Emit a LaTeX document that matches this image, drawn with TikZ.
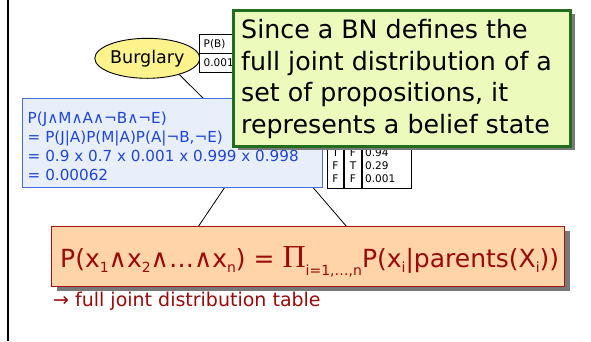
\documentclass[tikz,border=0pt]{standalone}
\usepackage{fontspec}
\setmainfont{DejaVu Sans}
\newfontfamily\piFont{Liberation Serif}
\usetikzlibrary{shapes.geometric,shadows}
\definecolor{ellyellow}{RGB}{252,243,140}
\definecolor{notefill}{RGB}{236,250,188}
\definecolor{noteedge}{RGB}{34,110,30}
\definecolor{orfill}{RGB}{255,212,168}
\definecolor{oredge}{RGB}{165,20,20}
\definecolor{ortext}{RGB}{155,10,10}
\definecolor{bltext}{RGB}{30,70,220}
\definecolor{bledge}{RGB}{70,110,225}
\definecolor{blfill}{RGB}{233,238,251}
\definecolor{shadowgray}{RGB}{120,120,120}
\newcommand{\mysub}[1]{\raisebox{-5pt}{\fontsize{14}{14}\selectfont #1}}
\begin{document}
\begin{tikzpicture}[x=1pt,y=-1pt,
  edge/.style={draw=black,line width=0.8pt},
  cellbox/.style={draw=black,line width=1.3pt,fill=white,inner sep=0pt,anchor=north west},
  tabtext/.style={font=\fontsize{10.5}{10.5}\selectfont,inner sep=0pt},
  bluebox/.style={draw=bledge,line width=1.3pt,fill=blfill,inner sep=0pt,anchor=north west},
  bluetext/.style={text=bltext,font=\fontsize{15.2}{15.2}\selectfont,inner sep=0pt,anchor=base west},
  notebox/.style={draw=noteedge,line width=2.6pt,fill=notefill,inner sep=0pt,anchor=north west,
    drop shadow={shadow xshift=5pt,shadow yshift=-4pt,fill=shadowgray,opacity=1}},
  notetext/.style={text=black,font=\fontsize{25.3}{25.3}\selectfont,inner sep=0pt,anchor=base west},
  orbox/.style={draw=oredge,line width=1.3pt,fill=orfill,inner sep=0pt,anchor=north west,
    drop shadow={shadow xshift=5pt,shadow yshift=-4pt,fill=shadowgray,opacity=1}},
  ortxt/.style={text=ortext,inner sep=0pt,anchor=base west}]
\useasboundingbox (0,0) rectangle (591,341);
\fill[white] (0,0) rectangle (591,341);
% left rule
\draw[line width=2pt] (8.3,0) -- (8.3,341);
% hidden network edges
\coordinate (bEnd) at (206,101);
\coordinate (aL) at (227,184);
\coordinate (jL) at (198,227);
\coordinate (aR) at (310,184);
\coordinate (mR) at (347,227);
\node[ellipse,draw=black,line width=0.9pt,fill=ellyellow,minimum width=84pt,minimum height=40pt,inner sep=0pt,
  font=\fontsize{17.5}{17.5}\selectfont] (burglary) at (147.3,58.3) {Burglary};
\draw[edge] (burglary.-27) -- (bEnd);
\draw[edge] (aL) -- (jL);
\draw[edge] (aR) -- (mR);
% P(B) table
\node[cellbox,minimum width=44pt,minimum height=19pt] (pbh) at (199,34) {};
\node[cellbox,minimum width=44pt,minimum height=19pt] (pbv) at (199,53) {};
\node[tabtext,anchor=base west] (pbt) at (203.5,47.5) {P(B)};
\node[tabtext,anchor=base west] (pbn) at (203.5,66.8) {0.001};
% CPT of alarm-like node
\node[cellbox,minimum width=84pt,minimum height=88pt] (cpt) at (327,100) {};
\draw[line width=1.3pt] (344,100) -- (344,188);
\draw[line width=1.3pt] (362,100) -- (362,188);
\node[tabtext,anchor=base] (c1a) at (335.5,156) {T};
\node[tabtext,anchor=base] (c1b) at (353,156) {F};
\node[tabtext,anchor=base west] (c1c) at (365,156) {0.94};
\node[tabtext,anchor=base] (c2a) at (335.5,169.4) {F};
\node[tabtext,anchor=base] (c2b) at (353,169.4) {T};
\node[tabtext,anchor=base west] (c2c) at (365,169.4) {0.29};
\node[tabtext,anchor=base] (c3a) at (335.5,182.7) {F};
\node[tabtext,anchor=base] (c3b) at (353,182.7) {F};
\node[tabtext,anchor=base west] (c3c) at (365,182.7) {0.001};
% blue calculation box
\node[bluebox,minimum width=300pt,minimum height=89pt] (calc) at (22,98) {};
\node[bluetext] (l1) at (27.5,123.3) {P(J∧M∧A∧¬B∧¬E)};
\node[bluetext] (l2) at (27.5,142.4) {= P(J|A)P(M|A)P(A|¬B,¬E)};
\node[bluetext] (l3) at (27.5,161.6) {= 0.9 x 0.7 x 0.001 x 0.999 x 0.998};
\node[bluetext] (l4) at (27.5,180.6) {= 0.00062};
% green note
\node[notebox,minimum width=337pt,minimum height=136pt] (note) at (232,9) {};
\node[notetext] (n1) at (241,38.3) {Since a BN defines the};
\node[notetext] (n2) at (241,70) {full joint distribution of a};
\node[notetext] (n3) at (241,101.7) {set of propositions, it};
\node[notetext] (n4) at (241,133.3) {represents a belief state};
% orange formula box
\fill[shadowgray] (474,286) rectangle (545,291);
\node[orbox,minimum width=513pt,minimum height=60pt] (formula) at (51,226) {};
\node[ortxt,font=\fontsize{25}{25}\selectfont] (ftext) at (60,267)
  {P(x\mysub{1}∧x\mysub{2}∧…∧x\mysub{n}) = {\piFont\fontsize{32}{32}\selectfont Π}\raisebox{-8pt}{\fontsize{14}{14}\selectfont i=1,…,n}P(x\mysub{i}|parents(X\mysub{i}))};
\node[ortxt,font=\fontsize{19}{19}\selectfont] (fjd) at (53,306) {→ full joint distribution table};
\end{tikzpicture}
\end{document}
